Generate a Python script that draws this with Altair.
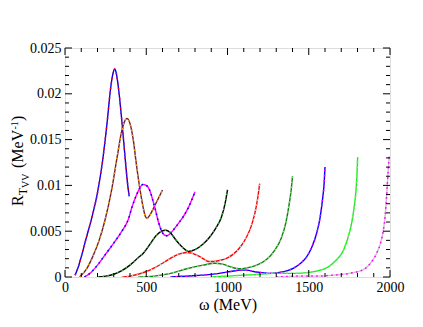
import altair as alt
import pandas as pd

# ---- data (omega in MeV, R in MeV^-1) ----
w1 = [62, 80, 100, 130, 164, 200, 230, 260, 280, 295, 305, 315, 330, 350, 370, 385, 395]
r1 = [0.0002, 0.0010, 0.0022, 0.0042, 0.0064, 0.0092, 0.0125, 0.0170, 0.0205, 0.0222, 0.0227, 0.0223, 0.0205, 0.0170, 0.0130, 0.0102, 0.0088]

w2 = [90, 130, 170, 210, 246, 287, 320, 350, 370, 382, 395, 420, 440, 462, 482, 495, 505, 520, 550, 575, 600]
r2 = [0.0, 0.0008, 0.0022, 0.0040, 0.0062, 0.0095, 0.0130, 0.0160, 0.0171, 0.0173, 0.0170, 0.0150, 0.0122, 0.0095, 0.0075, 0.0066, 0.0064, 0.0067, 0.0077, 0.0086, 0.0095]

w3 = [120, 160, 200, 250, 300, 350, 390, 410, 441, 460, 478, 500, 523, 540, 554, 575, 595, 610, 626, 645, 670, 700, 728, 760, 800]
r3 = [0.0, 0.0005, 0.0013, 0.0025, 0.0037, 0.0050, 0.0063, 0.0075, 0.0090, 0.0097, 0.0101, 0.0100, 0.0094, 0.0084, 0.0075, 0.0060, 0.0050, 0.0046, 0.0045, 0.0047, 0.0052, 0.0059, 0.0066, 0.0076, 0.0093]

w4 = [200, 250, 300, 350, 400, 450, 482, 520, 560, 595, 620, 645, 680, 720, 759, 800, 850, 892, 930, 964, 985, 1000]
r4 = [0.0, 0.0001, 0.0003, 0.0007, 0.0013, 0.0021, 0.0026, 0.0035, 0.0045, 0.0050, 0.0051, 0.0049, 0.0041, 0.0033, 0.0028, 0.0030, 0.0036, 0.0044, 0.0054, 0.0066, 0.0080, 0.0095]

w5 = [350, 400, 450, 500, 550, 600, 646, 700, 749, 780, 820, 860, 882, 913, 950, 1000, 1036, 1080, 1118, 1145, 1169, 1185, 1198]
r5 = [0.0, 0.0001, 0.0003, 0.0006, 0.0010, 0.0015, 0.0020, 0.0025, 0.00268, 0.0026, 0.0023, 0.0019, 0.0017, 0.0017, 0.0018, 0.0021, 0.0025, 0.0033, 0.0044, 0.0055, 0.0070, 0.0085, 0.0102]

w6 = [450, 550, 650, 750, 850, 920, 970, 1020, 1070, 1120, 1180, 1240, 1290, 1330, 1360, 1380, 1392, 1400]
r6 = [0.0, 0.0001, 0.0004, 0.0009, 0.0013, 0.0015, 0.0014, 0.0011, 0.0009, 0.0010, 0.0013, 0.0019, 0.0029, 0.0042, 0.0060, 0.0080, 0.0095, 0.0110]

w7 = [650, 750, 850, 950, 1020, 1080, 1120, 1160, 1200, 1260, 1320, 1370, 1410, 1450, 1487, 1520, 1549, 1570, 1585, 1595, 1600]
r7 = [0.0, 0.0001, 0.0002, 0.0004, 0.0006, 0.00075, 0.00075, 0.0006, 0.0005, 0.0004, 0.0005, 0.0007, 0.0010, 0.0015, 0.0022, 0.0033, 0.0048, 0.0065, 0.0085, 0.0103, 0.0120]

w8 = [900, 1000, 1100, 1200, 1280, 1350, 1420, 1500, 1560, 1610, 1660, 1713, 1740, 1764, 1780, 1791, 1797, 1801]
r8 = [0.0, 0.0001, 0.0002, 0.0003, 0.0004, 0.0004, 0.0004, 0.0005, 0.0007, 0.0010, 0.0017, 0.0029, 0.0042, 0.0059, 0.0077, 0.0095, 0.0112, 0.0131]

w9 = [1300, 1450, 1550, 1650, 1750, 1836, 1880, 1918, 1940, 1959, 1970, 1979, 1986, 1995]
r9 = [0.0, 0.0001, 0.0001, 0.0002, 0.0004, 0.0008, 0.0015, 0.0026, 0.0036, 0.0051, 0.0066, 0.0088, 0.0108, 0.0132]

curves_w = [w1, w2, w3, w4, w5, w6, w7, w8, w9]
curves_r = [r1, r2, r3, r4, r5, r6, r7, r8, r9]
solid_colors = ["#0000ff", "#6b1f3a", "#ff00ff", "#000000", "#ff0000", "#008b00", "#0000ff", "#00ff00", "#d8b8d8"]
dash_colors = ["#ff0000", "#ffa500", "#0000ff", "#33bb33", "#c8c8c8", "#bcbcbc", "#ff00ff", "#b8b8b8", "#ff00ff"]

x_major = [0, 500, 1000, 1500, 2000]
x_minor = [100, 200, 300, 400, 600, 700, 800, 900, 1100, 1200, 1300, 1400, 1600, 1700, 1800, 1900]
y_major = [0, 0.005, 0.01, 0.015, 0.02, 0.025]
y_minor = [0.001, 0.002, 0.003, 0.004, 0.006, 0.007, 0.008, 0.009, 0.011, 0.012, 0.013, 0.014,
           0.016, 0.017, 0.018, 0.019, 0.021, 0.022, 0.023, 0.024]

W, H = 325, 229
FONT = "Liberation Serif"

rows = []
for i, (ws, rs) in enumerate(zip(curves_w, curves_r)):
    for k, (w, r) in enumerate(zip(ws, rs)):
        rows.append({"omega": w, "R": r, "key": f"s{i}", "order": k, "kind": "solid"})
        rows.append({"omega": w, "R": r, "key": f"d{i}", "order": k, "kind": "dash"})
df = pd.DataFrame(rows)

keys = [f"s{i}" for i in range(9)] + [f"d{i}" for i in range(9)]
cols = solid_colors + dash_colors
color_scale = alt.Scale(domain=keys, range=cols)

xs = alt.Scale(domain=[0, 2000], nice=False)
ys = alt.Scale(domain=[0, 0.025], nice=False)

x_axis = alt.Axis(values=x_major, ticks=False, domain=False, grid=False, labelFont=FONT,
                  labelFontSize=14, labelColor="black", labelPadding=3, title="ω (MeV)",
                  titleFont=FONT, titleFontSize=16, titleFontWeight="normal", titleColor="black",
                  titlePadding=2, labelFlush=False, format="d")
y_axis = alt.Axis(values=y_major, ticks=False, domain=False, grid=False, labelFont=FONT,
                  labelFontSize=14, labelColor="black", labelPadding=4, format="~g", title=None)

base = alt.Chart(df)
solid = base.transform_filter(alt.datum.kind == "solid").mark_line(
    strokeWidth=1.4, interpolate="monotone", clip=True).encode(
    x=alt.X("omega:Q", scale=xs, axis=x_axis),
    y=alt.Y("R:Q", scale=ys, axis=y_axis),
    color=alt.Color("key:N", scale=color_scale, legend=None),
    order="order:Q")
dash = base.transform_filter(alt.datum.kind == "dash").mark_line(
    strokeWidth=1.5, strokeDash=[1.5, 3.5], interpolate="monotone", clip=True).encode(
    x=alt.X("omega:Q", scale=xs),
    y=alt.Y("R:Q", scale=ys),
    color=alt.Color("key:N", scale=color_scale, legend=None),
    order="order:Q")

xmaj = pd.DataFrame({"v": x_major})
xmin = pd.DataFrame({"v": x_minor})
ymaj = pd.DataFrame({"v": y_major})
ymin = pd.DataFrame({"v": y_minor})

def xticks(d, L):
    b = alt.Chart(d).mark_rule(color="black", strokeWidth=1)
    return [b.encode(x=alt.X("v:Q", scale=xs), y=alt.value(H), y2=alt.value(H - L)),
            b.encode(x=alt.X("v:Q", scale=xs), y=alt.value(0), y2=alt.value(L))]

def yticks(d, L):
    b = alt.Chart(d).mark_rule(color="black", strokeWidth=1)
    return [b.encode(y=alt.Y("v:Q", scale=ys), x=alt.value(0), x2=alt.value(L)),
            b.encode(y=alt.Y("v:Q", scale=ys), x=alt.value(W), x2=alt.value(W - L))]

ticks = xticks(xmaj, 7) + xticks(xmin, 4) + yticks(ymaj, 7) + yticks(ymin, 4)

# y title built from pieces (R_{T_VV} (MeV^-1)), rotated
tdf = pd.DataFrame({"a": [0]})
def piece(txt, size, x, y):
    return alt.Chart(tdf).mark_text(text=txt, font=FONT, fontSize=size, angle=270,
                                    align="left", baseline="alphabetic", color="black").encode(
        x=alt.value(x), y=alt.value(y))

title_parts = [
    piece("R", 16, -42, 158),
    piece("T", 12, -38.5, 147.3),
    piece("VV", 10, -36, 140),
    piece("(MeV", 16, -42, 120),
    piece("-1", 10, -47.5, 81.5),
    piece(")", 16, -42, 73),
]

chart = alt.layer(solid, dash, *ticks, *title_parts).properties(
    width=W, height=H,
    autosize=alt.AutoSizeParams(type="none"),
    padding={"left": 57, "top": 40, "right": 25, "bottom": 40},
).configure_view(stroke="black", strokeWidth=1.2).configure(background="white")

chart.save("out.html", embed_options={"renderer": "svg", "actions": False})
